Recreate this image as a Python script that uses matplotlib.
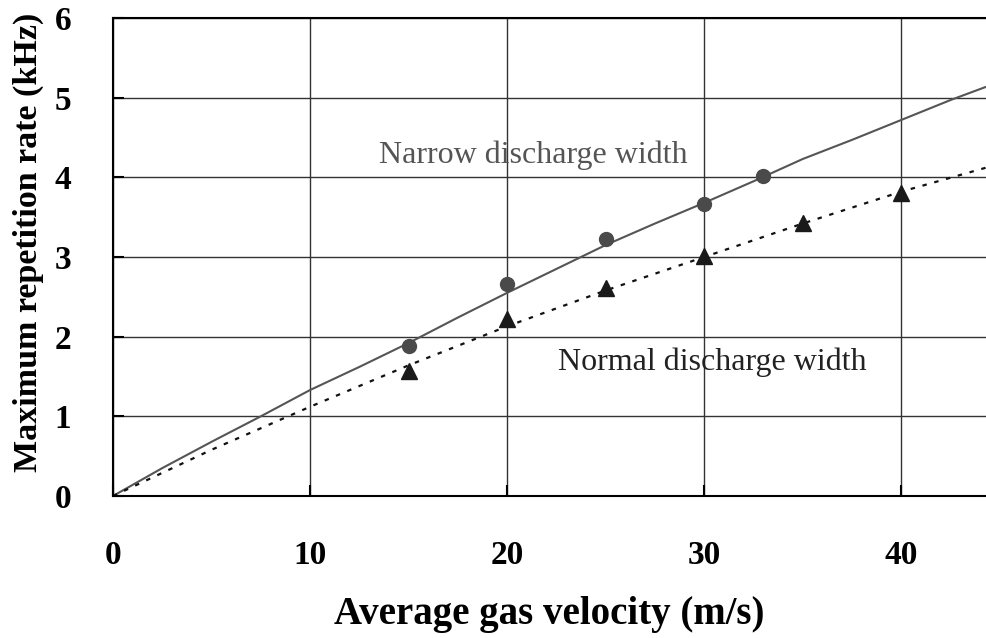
import matplotlib.pyplot as plt

# measured points
v_narrow = [15, 20, 25, 30, 33]
f_narrow = [1.88, 2.66, 3.23, 3.66, 4.02]
v_normal = [15, 20, 25, 30, 35, 40]
f_normal = [1.57, 2.22, 2.61, 3.01, 3.43, 3.80]

# calculated curves
v_calc_narrow = [0, 2.5, 5, 7.5, 10, 12.5, 15, 17.5, 20, 22.5, 25, 27.5, 30, 32.5, 35, 37.5, 40, 42.5, 45]
f_calc_narrow = [0, 0.35, 0.68, 1.0, 1.33, 1.62, 1.92, 2.24, 2.55, 2.85, 3.15, 3.42, 3.68, 3.95, 4.23, 4.47, 4.72, 4.97, 5.2]
v_calc_normal = [0, 5, 10, 15, 20, 25, 30, 35, 40, 45]
f_calc_normal = [0, 0.58, 1.12, 1.64, 2.13, 2.58, 3.0, 3.42, 3.82, 4.17]

xticks = [0, 10, 20, 30, 40]
yticks = [0, 1, 2, 3, 4, 5, 6]

plt.rcParams['font.family'] = ['Liberation Serif', 'DejaVu Serif']

fig = plt.figure(figsize=(9.86, 6.38), dpi=100)
ax = fig.add_axes([0.1146, 0.2226, 0.8854, 0.7492])

ax.plot(v_calc_narrow, f_calc_narrow, color='#555555', linewidth=1.5)
ax.plot(v_calc_normal, f_calc_normal, color='#111111', linewidth=1.6, linestyle=(0, (2, 3.5)))
ax.plot(v_narrow, f_narrow, 'o', color='#4a4a4a', markersize=10)
ax.plot(v_normal, f_normal, '^', color='#1a1a1a', markersize=11)

ax.set_xlim(0, 44.3)
ax.set_ylim(0, 6)
ax.set_xticks(xticks)
ax.set_yticks(yticks)
ax.grid(True, color='#333333', linewidth=1)
ax.set_axisbelow(True)

for side in ['left', 'top', 'bottom']:
    ax.spines[side].set_linewidth(1.5)
    ax.spines[side].set_color('black')
ax.spines['right'].set_visible(False)

ax.tick_params(direction='in', length=8, width=1.5, labelsize=24)
ax.tick_params(axis='x', pad=32)
ax.tick_params(axis='y', pad=30)
for lab in ax.get_xticklabels() + ax.get_yticklabels():
    lab.set_fontweight('bold')

ax.text(13.5, 4.18, 'Narrow discharge width', fontsize=23, color='#555555')
ax.text(22.6, 1.58, 'Normal discharge width', fontsize=23, color='#222222')

ax.set_xlabel('Average gas velocity (m/s)', fontsize=28, fontweight='bold', va='center')
ax.xaxis.set_label_coords(0.5, -0.247)
ax.set_ylabel('Maximum repetition rate (kHz)', fontsize=24.5, fontweight='bold', va='center')
ax.yaxis.set_label_coords(-0.0974, 0.531)

plt.savefig('out.png', dpi=100)
